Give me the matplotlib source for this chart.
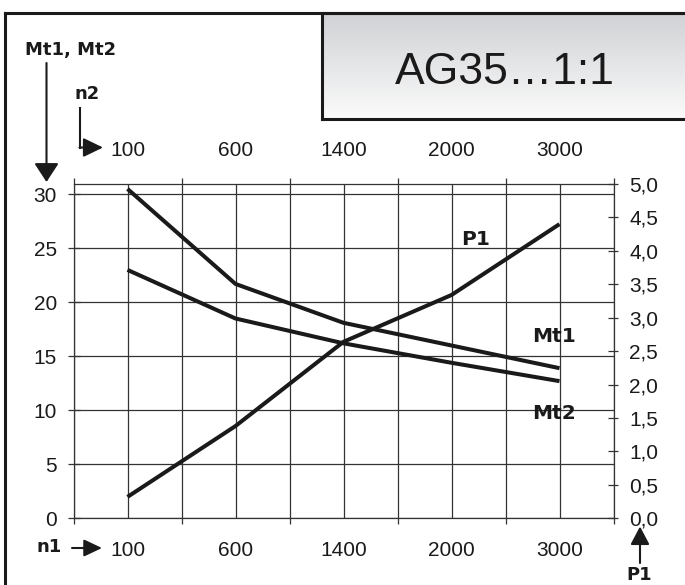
import numpy as np
import matplotlib
matplotlib.use("Agg")
import matplotlib.pyplot as plt
from matplotlib.lines import Line2D
from matplotlib.patches import FancyArrowPatch
from matplotlib.colors import LinearSegmentedColormap
from matplotlib.transforms import ScaledTranslation
from matplotlib.ticker import FuncFormatter

# data
speeds = ['100', '600', '1400', '2000', '3000']   # n1 / n2
mt1 = [30.5, 21.7, 18.1, 16.0, 13.9]
mt2 = [23.0, 18.5, 16.2, 14.4, 12.7]
p1 = [0.32, 1.38, 2.64, 3.34, 4.40]

W_PX, H_PX = 685, 585
INK = '#1a1a1a'
GRID = '#333333'

plt.rcParams['font.family'] = ['Liberation Sans', 'DejaVu Sans']

fig = plt.figure(figsize=(W_PX / 100, H_PX / 100), dpi=100)


def fp(x, y):
    # pixel position -> figure fraction
    return x / W_PX, 1 - y / H_PX


# ---- main plot area
left, right, top, bottom = 73.5, 613.5, 184.0, 518.3
ax = fig.add_axes([left / W_PX, 1 - bottom / H_PX, (right - left) / W_PX, (bottom - top) / H_PX])
x = np.arange(len(speeds))
ax.set_xlim(-0.5, len(speeds) - 0.5)
ax.set_ylim(0, (bottom - top) / 10.8)

ax.set_xticks(x)
ax.set_xticklabels(speeds)
ax.set_xticks(np.arange(-0.5, len(speeds), 1.0), minor=True)
ax.set_yticks(np.arange(0, 31, 5))
ax.grid(True, which='both', axis='x', color=GRID, lw=0.9)
ax.grid(True, which='major', axis='y', color=GRID, lw=0.9)
ax.set_axisbelow(True)

ax.tick_params(axis='x', which='major', length=0, labelsize=15, colors=INK, pad=16.5,
               top=True, labeltop=True, bottom=True, labelbottom=True)
# top labels sit a bit lower relative to their pad than the bottom ones
for t in ax.xaxis.get_major_ticks():
    t.label2.set_transform(t.label2.get_transform() + ScaledTranslation(0, 1 / 72, fig.dpi_scale_trans))
ax.tick_params(axis='x', which='minor', length=4, width=0.9, color=GRID,
               direction='out', top=True, bottom=True)
ax.tick_params(axis='y', which='major', direction='inout', length=8, width=0.9,
               color=GRID, labelsize=15, labelcolor=INK, pad=8)
for s in ax.spines.values():
    s.set_color(GRID)
    s.set_linewidth(0.9)

ax.plot(x, mt1, color=INK, lw=2.9, solid_capstyle='butt', zorder=5)
ax.plot(x, mt2, color=INK, lw=2.9, solid_capstyle='butt', zorder=5)

ax2 = ax.twinx()
ax2.set_ylim(0, 5)
ax2.set_yticks(np.arange(0, 5.01, 0.5))
ax2.yaxis.set_major_formatter(FuncFormatter(lambda v, p: f'{v:.1f}'.replace('.', ',')))
ax2.tick_params(axis='y', direction='inout', length=6.5, width=0.9, color=GRID,
                labelsize=15, labelcolor=INK, pad=8)
for s in ax2.spines.values():
    s.set_visible(False)
ax2.plot(x, p1, color=INK, lw=2.9, solid_capstyle='butt', zorder=5)

# curve labels
bold = dict(family='DejaVu Sans', fontweight='bold', color=INK)
fig.text(*fp(476, 245), 'P1', ha='center', va='baseline', fontsize=14.5, **bold)
fig.text(*fp(554, 342), 'Mt1', ha='center', va='baseline', fontsize=14.5, **bold)
fig.text(*fp(554, 419), 'Mt2', ha='center', va='baseline', fontsize=14.5, **bold)

# axis captions and arrows
fig.text(*fp(71, 55), 'Mt1, Mt2', ha='center', va='baseline', fontsize=13, **bold)
fig.text(*fp(87, 99), 'n2', ha='center', va='baseline', fontsize=13, **bold)
fig.text(*fp(49, 552), 'n1', ha='center', va='baseline', fontsize=13, **bold)
fig.text(*fp(639, 580), 'P1', ha='center', va='baseline', fontsize=13, **bold)


def arrow(p0, p1_, hl, hw):
    a = FancyArrowPatch(fp(*p0), fp(*p1_), transform=fig.transFigure,
                        arrowstyle=f'-|>,head_length={hl},head_width={hw}',
                        mutation_scale=1, lw=1.5, color=INK,
                        shrinkA=0, shrinkB=0)
    fig.add_artist(a)


arrow((46.5, 63), (46.5, 182), 11.5, 7.5)
fig.add_artist(Line2D(*zip(fp(80, 108), fp(80, 147.5)), transform=fig.transFigure, lw=1.5, color=INK))
arrow((79.5, 147.5), (103, 147.5), 12, 5.8)
arrow((72, 548), (102, 548), 11, 5.2)
arrow((640, 563), (640, 526.5), 11, 5.8)

# outer frame (left and top only)
fig.add_artist(Line2D(*zip(fp(5, 585), fp(5, 12.7)), transform=fig.transFigure, lw=2.2, color=INK))
fig.add_artist(Line2D(*zip(fp(5, 12.7), fp(685, 12.7)), transform=fig.transFigure, lw=2.2, color=INK))

# title box with grey gradient
bx0, by0, bx1, by1 = 321.7, 12.7, 690, 119.3
tax = fig.add_axes([bx0 / W_PX, 1 - by1 / H_PX, (bx1 - bx0) / W_PX, (by1 - by0) / H_PX])
cmap = LinearSegmentedColormap.from_list('box', ['#cfd1d4', '#fbfbfb'])
tax.imshow(np.linspace(0, 1, 256).reshape(-1, 1), aspect='auto', cmap=cmap,
           extent=[0, 1, 0, 1], origin='upper')
tax.set_xticks([])
tax.set_yticks([])
for s in tax.spines.values():
    s.set_linewidth(2.2)
    s.set_color(INK)
tax.spines['right'].set_visible(False)
fig.text(*fp(504.5, 84), 'AG35…1:1', ha='center', va='baseline', fontsize=32,
         color=INK, family='Liberation Sans')

fig.savefig('out.png', dpi=100)
